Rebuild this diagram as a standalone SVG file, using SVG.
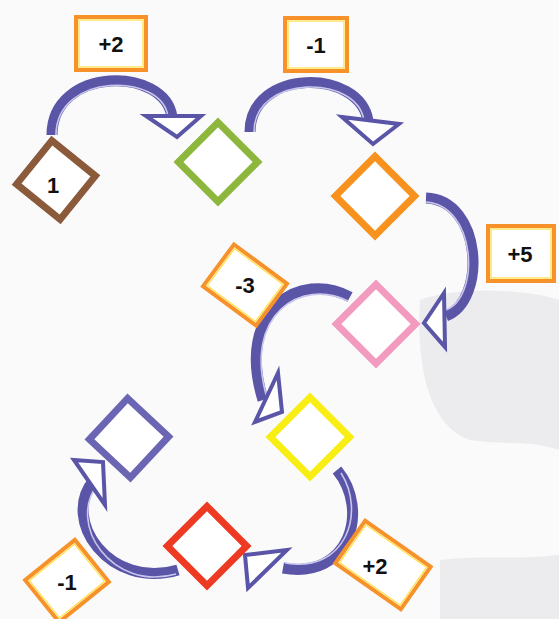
<svg xmlns="http://www.w3.org/2000/svg" width="559" height="619" viewBox="0 0 559 619">
<style>
.shaft{fill:none;stroke:#5a55a6;stroke-width:11;stroke-linecap:butt}
.hl{fill:none;stroke:#c9c6ee;stroke-width:1.6}
.head{fill:#ffffff;stroke:#5a55a6;stroke-width:4;stroke-linejoin:miter}
.box{fill:#ffffff;stroke:#f7922a;stroke-width:4}
.boxin{fill:none;stroke:#ffe14d;stroke-width:1.3}
.dia{fill:#ffffff;stroke-width:7}
.t{font-family:"Liberation Sans",Arial,sans-serif;font-weight:bold;font-size:22px;fill:#111111;text-anchor:middle}
</style>
<rect width="559" height="619" fill="#fafafa"/>
<g id="background" fill="#ececee">
<path d="M420 300 C460 285 530 290 559 300 L559 450 C530 440 500 445 470 440 C440 430 415 390 420 300 Z"/>
<path d="M440 560 C480 555 520 560 559 555 L559 619 L440 619 Z"/>
</g>
<g id="connectors">
<path class="shaft" d="M52 135 C52 66 165 66 172 117"/>
<path class="hl" d="M56 135 C56 72 163 72 168 117"/>
<polygon class="head" points="146,116 201,116 177,137"/>
<path class="shaft" d="M250 132 C250 68 360 68 368 121"/>
<path class="hl" d="M254 132 C254 74 358 74 364 121"/>
<polygon class="head" points="342,117 399,124 373,144"/>
<path class="shaft" d="M426 198 C482 200 487 300 446 316"/>
<path class="hl" d="M426 202 C476 205 481 296 446 310"/>
<polygon class="head" points="444,293 424,323 445,347"/>
<path class="shaft" d="M350 297 C300 270 235 310 263 400"/>
<path class="hl" d="M348 301 C302 278 242 314 267 398"/>
<polygon class="head" points="278,373 282,412 255,422"/>
<path class="shaft" d="M337 470 C370 510 350 580 283 568"/>
<path class="hl" d="M341 473 C366 512 346 574 285 563"/>
<polygon class="head" points="287,550 245,555 248,588"/>
<path class="shaft" d="M178 570 C110 590 60 520 94 480"/>
<path class="hl" d="M176 574 C112 592 66 524 98 484"/>
<polygon class="head" points="74,460 103,462 105,505"/>
</g>
<g id="n1"><rect class="dia" x="28" y="152" width="56" height="56" stroke="#8b5a3b" transform="rotate(39 56 180)"/><text class="t" x="53" y="193">1</text></g>
<g id="n2"><rect class="dia" x="190" y="134" width="56" height="56" stroke="#8cb63c" transform="rotate(45 218 162)"/></g>
<g id="n3"><rect class="dia" x="347" y="168" width="56" height="56" stroke="#f7921e" transform="rotate(45 375 196)"/></g>
<g id="n4"><rect class="dia" x="348" y="296" width="56" height="56" stroke="#f29bbf" stroke-width="6" transform="rotate(45 376 324)"/></g>
<g id="n5"><rect class="dia" x="282" y="409" width="56" height="56" stroke="#f8ee14" transform="rotate(45 310 437)"/></g>
<g id="n6"><rect class="dia" x="179" y="518" width="56" height="56" stroke="#ee3a22" transform="rotate(45 207 546)"/></g>
<g id="n7"><rect class="dia" x="101" y="410" width="56" height="56" stroke="#6b66b3" transform="rotate(43 129 438)"/></g>
<g id="l1"><rect class="box" x="76" y="17" width="70" height="53"/><rect class="boxin" x="79" y="20" width="64" height="47"/><text class="t" x="111" y="52">+2</text></g>
<g id="l2"><rect class="box" x="285" y="18" width="62" height="53"/><rect class="boxin" x="288" y="21" width="56" height="47"/><text class="t" x="316" y="53">-1</text></g>
<g id="l3"><rect class="box" x="488" y="226" width="66" height="55"/><rect class="boxin" x="491" y="229" width="60" height="49"/><text class="t" x="520" y="262">+5</text></g>
<g id="l4"><g transform="rotate(36.5 245 285)"><rect class="box" x="212" y="259" width="66" height="52"/><rect class="boxin" x="215" y="262" width="60" height="46"/></g><text class="t" x="245" y="293">-3</text></g>
<g id="l5"><g transform="rotate(35 383 565)"><rect class="box" x="343" y="539" width="80" height="52"/><rect class="boxin" x="346" y="542" width="74" height="46"/></g><text class="t" x="375" y="574">+2</text></g>
<g id="l6"><g transform="rotate(-39 67 581)"><rect class="box" x="35" y="554" width="64" height="54"/><rect class="boxin" x="38" y="557" width="58" height="48"/></g><text class="t" x="67" y="590">-1</text></g>
</svg>
